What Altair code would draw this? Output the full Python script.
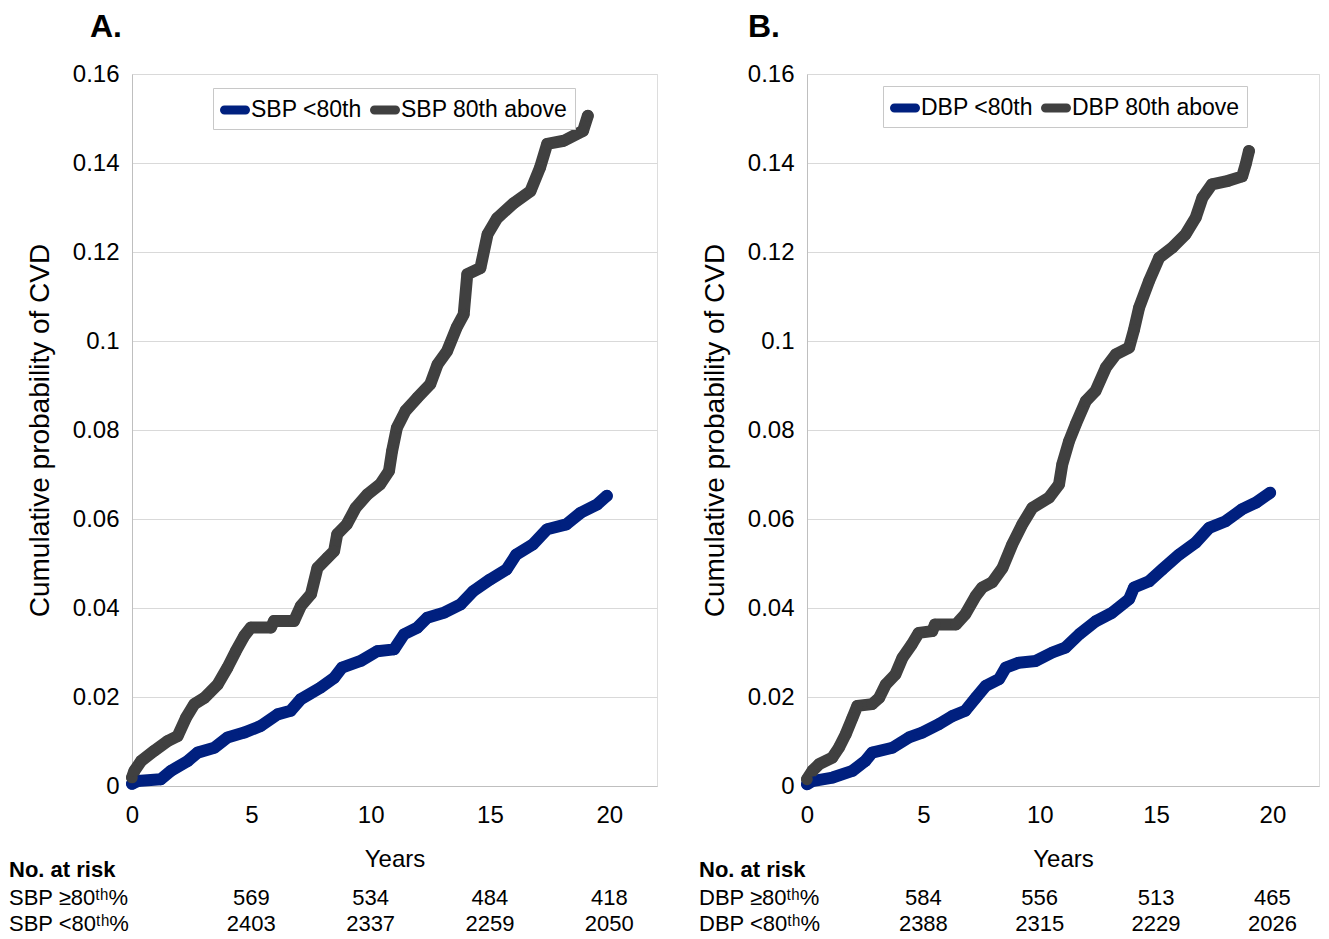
import altair as alt
import pandas as pd

# ---------------- data ----------------
# Panel A: SBP
A_low_years = [0.0, 0.24, 1.2, 1.63, 2.33, 2.75, 3.45, 4.0, 4.7, 5.4, 6.1, 6.65, 7.07, 7.9, 8.47, 8.8,
               9.58, 10.28, 10.98, 11.4, 11.96, 12.37, 13.1, 13.77, 14.3, 15.0, 15.7, 16.1, 16.8,
               17.4, 18.2, 18.8, 19.5, 19.9]
A_low_prob = [0.0005, 0.0011, 0.0015, 0.0034, 0.0056, 0.0075, 0.0086, 0.0109, 0.0120, 0.0135, 0.0161,
              0.0169, 0.0195, 0.0221, 0.0243, 0.0266, 0.0281, 0.0303, 0.0307, 0.0341, 0.0356, 0.0378,
              0.0390, 0.0408, 0.0438, 0.0464, 0.0487, 0.0520, 0.0543, 0.0577, 0.0588, 0.0614, 0.0633,
              0.0652]
A_high_years = [0.0, 0.1, 0.38, 0.93, 1.49, 1.91, 2.26, 2.61, 3.03, 3.59, 4.0, 4.35, 4.7, 4.98, 5.82,
                5.95, 6.79, 7.07, 7.5, 7.77, 8.19, 8.47, 8.6, 9.0, 9.37, 9.86, 10.4, 10.77, 10.9, 11.1,
                11.46, 11.95, 12.5, 12.8, 13.2, 13.6, 13.9, 14.05, 14.6, 14.9, 15.3, 16.0, 16.7, 17.1,
                17.4, 18.1, 18.9, 19.1]
A_high_prob = [0.0019, 0.0034, 0.0056, 0.0079, 0.0101, 0.0112, 0.0153, 0.0184, 0.0198, 0.0228, 0.0266,
               0.0303, 0.0337, 0.0356, 0.0356, 0.0371, 0.0371, 0.0404, 0.0431, 0.0490, 0.0513, 0.0528,
               0.0566, 0.0588, 0.0625, 0.0655, 0.0678, 0.0708, 0.0753, 0.0805, 0.0843, 0.0872, 0.0903,
               0.0947, 0.0977, 0.1030, 0.1060, 0.1150, 0.1164, 0.1240, 0.1276, 0.1310, 0.1337, 0.1390,
               0.1443, 0.1450, 0.1472, 0.1506]

# Panel B: DBP
B_low_years = [0.0, 0.23, 1.1, 1.95, 2.5, 2.8, 3.67, 4.38, 4.95, 5.67, 6.24, 6.8, 7.25, 7.68, 8.25,
               8.54, 9.1, 9.83, 10.54, 11.1, 11.7, 12.4, 13.1, 13.84, 14.05, 14.7, 15.27, 15.99, 16.7,
               17.28, 17.99, 18.7, 19.3, 19.9]
B_low_prob = [0.0004, 0.0011, 0.0019, 0.0034, 0.0056, 0.0075, 0.0086, 0.0109, 0.0120, 0.0139, 0.0157,
              0.0169, 0.0198, 0.0225, 0.0240, 0.0266, 0.0277, 0.0281, 0.0300, 0.0311, 0.0341, 0.0370,
              0.0389, 0.0420, 0.0446, 0.0460, 0.0487, 0.0520, 0.0547, 0.0580, 0.0595, 0.0622, 0.0637,
              0.0659]
B_high_years = [0.0, 0.23, 0.52, 1.09, 1.37, 1.66, 1.95, 2.16, 2.8, 3.1, 3.38, 3.8, 4.1, 4.5, 4.8,
                5.38, 5.5, 6.4, 6.8, 7.25, 7.53, 7.96, 8.4, 8.82, 9.25, 9.68, 10.4, 10.83, 10.97,
                11.26, 11.55, 11.98, 12.4, 12.84, 13.27, 13.84, 14.05, 14.27, 14.7, 15.13, 15.7,
                16.27, 16.7, 16.99, 17.4, 18.1, 18.7, 18.85, 18.99]
B_high_prob = [0.0015, 0.0034, 0.0049, 0.0064, 0.0086, 0.0116, 0.0153, 0.0180, 0.0184, 0.0198, 0.0228,
               0.0251, 0.0288, 0.0318, 0.0344, 0.0348, 0.0363, 0.0363, 0.0386, 0.0427, 0.0446, 0.0458,
               0.0490, 0.0543, 0.0588, 0.0625, 0.0648, 0.0678, 0.0723, 0.0775, 0.0813, 0.0865, 0.0888,
               0.0940, 0.0970, 0.0985, 0.1025, 0.1075, 0.1135, 0.1187, 0.1210, 0.1240, 0.1277, 0.1322,
               0.1352, 0.1360, 0.1370, 0.1397, 0.1427]

A_series = ["SBP <80th", "SBP 80th above"]
B_series = ["DBP <80th", "DBP 80th above"]

x_ticks = [0, 5, 10, 15, 20]
y_ticks = [0, 0.02, 0.04, 0.06, 0.08, 0.1, 0.12, 0.14, 0.16]

risk_years = [5, 10, 15, 20]
A_risk_high = [569, 534, 484, 418]
A_risk_low = [2403, 2337, 2259, 2050]
B_risk_high = [584, 556, 513, 465]
B_risk_low = [2388, 2315, 2229, 2026]

A_row_labels = ["SBP \u226580\u1d57\u02b0%", "SBP <80\u1d57\u02b0%"]
B_row_labels = ["DBP \u226580\u1d57\u02b0%", "DBP <80\u1d57\u02b0%"]

# ---------------- style ----------------
BLUE = "#00207f"
GREY = "#404040"
NARROW = "Liberation Sans Narrow, Arial Narrow, Liberation Sans, Arial, sans-serif"
REG = "Liberation Sans, Arial, sans-serif"
SWATCH = "M-0.7,-0.3 L0.7,-0.3 A0.3,0.3 0 0 1 0.7,0.3 L-0.7,0.3 A0.3,0.3 0 0 1 -0.7,-0.3 Z"
PLOT_H = 712


def panel(low_t, low_p, high_t, high_p, names, width, risk_hi, risk_lo, row_labels,
          letter, letter_dx, legend_x, legend_y, table_dx):
    df = pd.DataFrame({
        "t": low_t + high_t,
        "p": low_p + high_p,
        "g": [names[0]] * len(low_t) + [names[1]] * len(high_t),
    })
    xs = alt.Scale(domain=[0, 22], nice=False)
    ys = alt.Scale(domain=[0, 0.16], nice=False)
    x = alt.X("t:Q", scale=xs, axis=alt.Axis(
        values=x_ticks, grid=False, ticks=False, domainColor="#bfbfbf", labelFlush=False,
        labelFont=NARROW, labelFontSize=24, labelColor="black", labelPadding=17,
        title="Years", titleFont=NARROW, titleFontSize=24, titleFontWeight="normal",
        titleColor="black", titlePadding=20))
    y = alt.Y("p:Q", scale=ys, axis=alt.Axis(
        values=y_ticks, format="~g", grid=True, gridColor="#d9d9d9", ticks=False,
        domainColor="#bfbfbf", labelFont=NARROW, labelFontSize=24, labelColor="black",
        labelPadding=13, title="Cumulative probability of CVD", titleFont=REG,
        titleFontSize=28, titleFontWeight="normal", titleColor="black", titlePadding=18))
    base = alt.Chart(df)
    line = base.mark_line(strokeWidth=12, strokeCap="round", strokeJoin="round").encode(
        x=x, y=y,
        stroke=alt.Stroke("g:N", scale=alt.Scale(domain=names, range=[BLUE, GREY]), legend=None),
        detail="g:N",
    )
    pts = base.mark_circle(size=135, opacity=1).encode(
        x=x, y=y,
        color=alt.Color("g:N", scale=alt.Scale(domain=names, range=[BLUE, GREY]),
                        legend=alt.Legend(
                            orient="none", legendX=legend_x, legendY=legend_y,
                            direction="horizontal", title=None, symbolType=SWATCH,
                            symbolSize=900, symbolStrokeWidth=0, symbolOpacity=1,
                            labelFont=NARROW, labelFontSize=23, labelColor="black",
                            labelLimit=400, labelOffset=1, columnPadding=8, padding=7,
                            strokeColor="#c8c8c8", fillColor="white")),
    )
    risk_df = pd.DataFrame({"t": risk_years, "hi": risk_hi, "lo": risk_lo})
    txt = dict(font=NARROW, fontSize=22, color="black", align="center", baseline="middle")
    row1 = alt.Chart(risk_df).mark_text(**txt).encode(
        x=alt.X("t:Q", scale=xs), y=alt.value(824), text="hi:Q")
    row2 = alt.Chart(risk_df).mark_text(**txt).encode(
        x=alt.X("t:Q", scale=xs), y=alt.value(850), text="lo:Q")
    lab_df = pd.DataFrame({"lab": row_labels, "row": [824, 850]})
    labs = alt.Chart(lab_df).mark_text(font=NARROW, fontSize=22, color="black", align="left",
                                       baseline="middle").encode(
        x=alt.value(table_dx), y=alt.Y("row:Q", scale=None), text="lab:N")
    head = alt.Chart(pd.DataFrame({"h": ["No. at risk"]})).mark_text(
        font=NARROW, fontSize=22, fontWeight="bold", color="black", align="left",
        baseline="middle").encode(x=alt.value(table_dx), y=alt.value(796), text="h:N")
    let = alt.Chart(pd.DataFrame({"h": [letter]})).mark_text(
        font=REG, fontSize=32, fontWeight="bold", color="black", align="center",
        baseline="middle").encode(x=alt.value(letter_dx), y=alt.value(-47), text="h:N")
    return alt.layer(line, pts, row1, row2, labs, head, let).properties(
        width=width, height=PLOT_H).resolve_scale(color="independent", stroke="independent")


pA = panel(A_low_years, A_low_prob, A_high_years, A_high_prob, A_series, 525,
           A_risk_high, A_risk_low, A_row_labels, "A.", -26, 81, 14, -123)
pB = panel(B_low_years, B_low_prob, B_high_years, B_high_prob, B_series, 512,
           B_risk_high, B_risk_low, B_row_labels, "B.", -43, 76, 12, -108)

chart = alt.hconcat(pA, pB, spacing=40).resolve_scale(
    color="independent", stroke="independent", x="independent", y="independent"
).resolve_legend(color="independent").properties(
    padding={"left": 8, "top": 10, "right": 5, "bottom": 5}
).configure_view(stroke=None).configure(background="white")

chart.save("out.html", embed_options={"renderer": "svg", "actions": False})
